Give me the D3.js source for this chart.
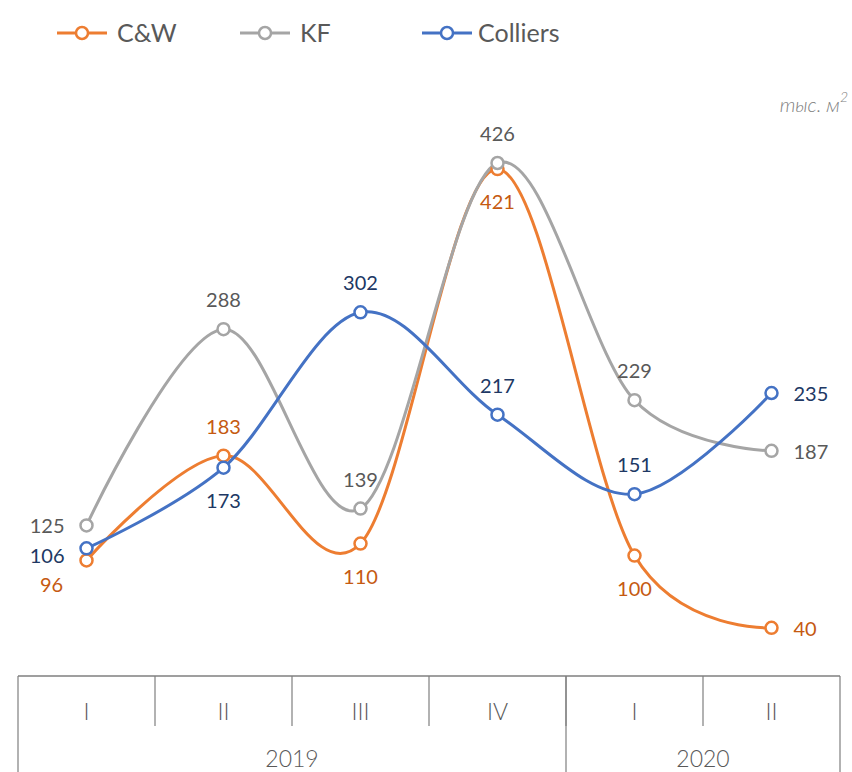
<!DOCTYPE html>
<html>
<head>
<meta charset="utf-8">
<script src="https://cdn.jsdelivr.net/npm/d3@7"></script>
<style>
  body { margin: 0; background: #fff; }
  svg { display: block; font-family: Lato, "Open Sans", sans-serif; }
</style>
</head>
<body>
<svg id="chart" width="852" height="772"></svg>
<script>
// quarters and years
const quarters = ["I", "II", "III", "IV", "I", "II"];
const years = ["2019", "2020"];
const yearSpans = [4, 2];

// series values, thousand sq. m
const cw = [96, 183, 110, 421, 100, 40];
const kf = [125, 288, 139, 426, 229, 187];
const colliers = [106, 173, 302, 217, 151, 235];

const seriesNames = ["C&W", "KF", "Colliers"];

// label placement per point: "a" above, "b" below, "l" left, "r" right
const cwPos = ["bl", "a", "b", "b", "b", "r"];
const kfPos = ["l", "a", "a", "a", "a", "r"];
const colliersPos = ["ll", "b", "a", "a", "a", "r"];

const svg = d3.select("#chart");
const W = 852, H = 772;

const x = d3.scaleBand().domain(d3.range(quarters.length)).range([18, 840]);
const cx = i => x(i) + x.bandwidth() / 2;
const y = d3.scaleLinear().domain([0, 426]).range([676, 163]);

const series = [
  { name: seriesNames[0], values: cw, pos: cwPos, color: "#ED7D31", text: "#C55A11" },
  { name: seriesNames[1], values: kf, pos: kfPos, color: "#A5A5A5", text: "#595959" },
  { name: seriesNames[2], values: colliers, pos: colliersPos, color: "#4472C4", text: "#203864" }
];

// ---- legend
const legendX = [57, 240, 422];
series.forEach((s, k) => {
  const g = svg.append("g").attr("transform", `translate(${legendX[k]},33)`);
  g.append("line").attr("x1", 0).attr("x2", 50).attr("stroke", s.color).attr("stroke-width", 3);
  g.append("circle").attr("cx", 25).attr("r", 6).attr("fill", "#fff")
    .attr("stroke", s.color).attr("stroke-width", 2.5);
  g.append("text").attr("x", k === 2 ? 56 : 60).attr("y", 9).attr("font-size", 25)
    .attr("fill", "#595959").text(s.name);
});

// ---- unit
const unit = svg.append("text").attr("x", 848).attr("y", 112).attr("text-anchor", "end")
  .attr("font-size", 20).attr("font-style", "italic").attr("font-weight", 300).attr("fill", "#7f7f7f");
unit.append("tspan").text("тыс. м");
unit.append("tspan").attr("dy", -10).attr("font-size", 14).text("2");

// ---- lines
const line = d3.line().x((d, i) => cx(i)).y(d => y(d)).curve(d3.curveCardinal.tension(0));

series.forEach(s => {
  svg.append("path").datum(s.values).attr("d", line).attr("fill", "none")
    .attr("stroke", s.color).attr("stroke-width", 3);
});

series.forEach(s => {
  svg.selectAll(null).data(s.values).enter().append("circle")
    .attr("cx", (d, i) => cx(i)).attr("cy", d => y(d)).attr("r", 6)
    .attr("fill", "#fff").attr("stroke", s.color).attr("stroke-width", 2.5);
});

// ---- data labels
series.forEach(s => {
  s.values.forEach((v, i) => {
    const p = s.pos[i];
    let tx = cx(i), ty = y(v), anchor = "middle";
    if (p === "a") ty -= 22;
    else if (p === "b") ty += 40;
    else if (p === "bl") { tx -= 35; ty += 32; }
    else if (p === "l") { tx -= 22; ty += 8; anchor = "end"; }
    else if (p === "ll") { tx -= 22; ty += 15; anchor = "end"; }
    else if (p === "r") { tx += 22; ty += 8; anchor = "start"; }
    svg.append("text").attr("x", tx).attr("y", ty).attr("text-anchor", anchor)
      .attr("font-size", 20).attr("fill", s.text).text(v);
  });
});

// ---- category table
const gridColor = "#7f7f7f";
const x0 = x.range()[0], x1 = x.range()[1];
svg.append("line").attr("x1", x0).attr("x2", x1).attr("y1", 676).attr("y2", 676)
  .attr("stroke", gridColor).attr("stroke-width", 1.5);

// quarter dividers
d3.range(1, quarters.length).forEach(i => {
  svg.append("line").attr("x1", x(i)).attr("x2", x(i)).attr("y1", 676).attr("y2", 726)
    .attr("stroke", gridColor).attr("stroke-width", 1.2);
});

// year dividers
let acc = 0;
const yearEdges = [0];
yearSpans.forEach(n => { acc += n; yearEdges.push(acc); });
yearEdges.forEach(e => {
  const xe = e < quarters.length ? x(e) : x1;
  svg.append("line").attr("x1", xe).attr("x2", xe).attr("y1", 676).attr("y2", H)
    .attr("stroke", gridColor).attr("stroke-width", 1.2);
});

svg.selectAll(null).data(quarters).enter().append("text")
  .attr("x", (d, i) => cx(i)).attr("y", 720).attr("text-anchor", "middle")
  .attr("font-size", 23).attr("font-weight", 300).attr("fill", "#595959").text(d => d);

years.forEach((yr, k) => {
  const a = x(yearEdges[k]);
  const b = yearEdges[k + 1] < quarters.length ? x(yearEdges[k + 1]) : x1;
  svg.append("text").attr("x", (a + b) / 2).attr("y", 767).attr("text-anchor", "middle")
    .attr("font-size", 23).attr("font-weight", 300).attr("fill", "#595959").text(yr);
});
</script>
</body>
</html>
